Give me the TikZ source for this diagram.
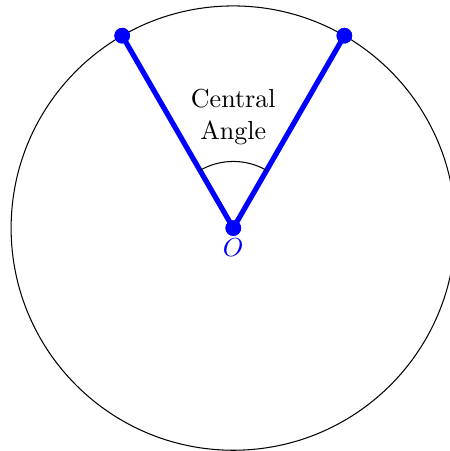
\documentclass[tikz,border=0pt]{standalone}
\begin{document}
\begin{tikzpicture}[
  dot/.style={circle,fill=blue,inner sep=0pt,minimum size=6pt},
  radius line/.style={blue,line width=2pt},
]
\useasboundingbox (-3.15,-3.01) rectangle (2.92,3.08);
\draw (0,0) circle (3cm);
\node[dot] (O) at (0,0) {};
\node[dot] (A) at (120:3) {};
\node[dot] (B) at (60:3) {};
\draw[radius line] (A.center) -- (O.center) -- (B.center);
\node[dot] at (0,0) {};
\node[dot] at (120:3) {};
\node[dot] at (60:3) {};
\draw (60:0.9) arc (60:120:0.9);
\node[align=center] (lab) at (90:1.5) {Central\\Angle};
\node[blue,below=-2.5pt] (Olab) at (O.south) {$O$};
\end{tikzpicture}
\end{document}
